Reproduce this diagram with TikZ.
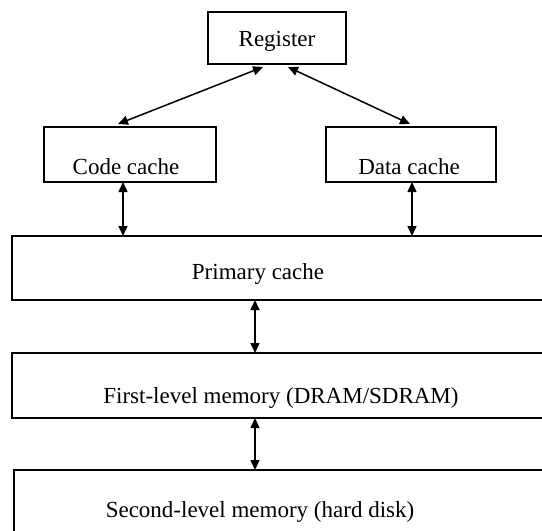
\documentclass[tikz,border=0pt]{standalone}
\usepackage{fontspec}
\setmainfont{Liberation Serif}
\usetikzlibrary{arrows.meta,calc}
\begin{document}
\begin{tikzpicture}[x=1pt,y=-1pt,
  box/.style={draw, line width=2pt, inner sep=0pt, outer sep=0pt, anchor=north west},
  lbl/.style={anchor=base, inner sep=0pt, font=\fontsize{23}{27}\selectfont},
  link/.style={line width=1.5pt, {Triangle[length=10pt,width=9pt]}-{Triangle[length=10pt,width=9pt]}}]
\useasboundingbox (0,0) rectangle (542,531);
\clip (0,0) rectangle (542,531);

% memory hierarchy blocks (the wide ones run past the frame)
\node[box, minimum width=138pt, minimum height=52pt] (reg)    at (208,12)  {};
\node[box, minimum width=172pt, minimum height=55pt] (code)   at (44,127)  {};
\node[box, minimum width=170pt, minimum height=55pt] (data)   at (326,127) {};
\node[box, minimum width=560pt, minimum height=64pt] (prim)   at (12,236)  {};
\node[box, minimum width=560pt, minimum height=65pt] (first)  at (12,353)  {};
\node[box, minimum width=560pt, minimum height=80pt] (second) at (14,470)  {};

% labels
\node[lbl] (treg)    at (277,46)  {Register};
\node[lbl] (tcode)   at (126,174) {Code cache};
\node[lbl] (tdata)   at (409,174) {Data cache};
\node[lbl] (tprim)   at (258,279) {Primary cache};
\node[lbl] (tfirst)  at (281,403) {First-level memory (DRAM/SDRAM)};
\node[lbl] (tsecond) at (260,517) {Second-level memory (hard disk)};

% two-way transfers
\draw[link] ($(reg.south west)+(55,3)$) -- ($(code.north west)+(74,-3)$);
\draw[link] ($(reg.south west)+(80,3)$) -- ($(data.north west)+(84,-3)$);
\draw[link] ($(code.south west)+(79,0)$) -- ($(prim.north west)+(111,0)$);
\draw[link] ($(data.south west)+(86,0)$) -- ($(prim.north west)+(400,0)$);
\draw[link] ($(prim.south west)+(243,0)$) -- ($(first.north west)+(243,0)$);
\draw[link] ($(first.south west)+(243,0)$) -- ($(second.north west)+(241,0)$);
\end{tikzpicture}
\end{document}
